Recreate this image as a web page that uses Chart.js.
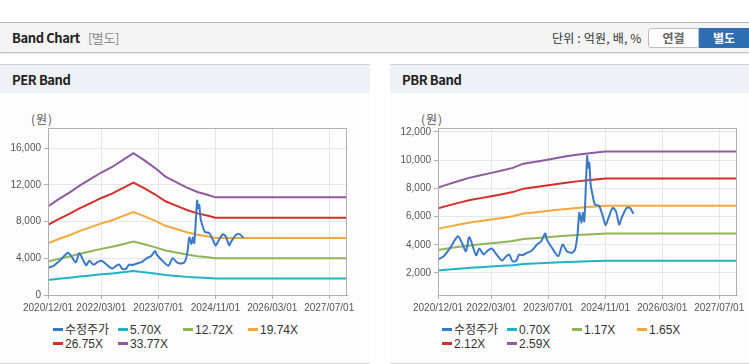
<!DOCTYPE html>
<html><head><meta charset="utf-8">
<script src="https://cdn.jsdelivr.net/npm/chart.js@4.4.1/dist/chart.umd.min.js"></script>
<style>
body{margin:0;width:749px;height:364px;background:#fff;position:relative;overflow:hidden;font-family:'Noto Sans CJK KR','Noto Sans',sans-serif;color:#222;}
.abs{position:absolute;}
#topline{left:0;top:22px;width:749px;height:1px;background:#bcbcbc;}
#hdr{left:0;top:23px;width:749px;height:29px;background:#f4f4f4;border-bottom:1px solid #c4c4c4;box-shadow:0 1px 2px rgba(0,0,0,0.12);}
#hdrTitle{left:12px;top:29px;font-size:13px;font-weight:bold;line-height:18px;letter-spacing:-0.4px;}
#hdrTitle span{color:#8a8a8a;font-weight:normal;margin-left:8px;}
#unit{left:552px;top:30px;font-size:12px;line-height:16px;color:#333;letter-spacing:0.2px;}
#btn1{left:648px;top:28px;width:49px;height:18px;border:1px solid #bdbdbd;border-radius:3px 0 0 3px;background:#fff;color:#666;font-size:12px;font-weight:bold;text-align:center;line-height:18px;}
#btn2{left:699px;top:28px;width:50px;height:20px;background:#2f6db1;color:#fff;font-size:12px;font-weight:bold;text-align:center;line-height:20px;}
.panel{top:64px;height:298px;background:#fdfdfd;border-top:1px solid #d2d2d2;border-bottom:1px solid #d8d8d8;}
.phead{left:0;top:0;right:0;height:28px;background:#eef1f6;}
.ptitle{top:7px;left:12px;font-size:13px;font-weight:bold;line-height:16px;letter-spacing:-0.4px;}
.unitlbl{top:110px;font-size:12px;color:#555;letter-spacing:1px;font-family:'Noto Sans CJK KR',sans-serif;}
canvas{position:absolute;}
.lg{position:absolute;font-family:'Liberation Sans','Noto Sans CJK KR',sans-serif;font-size:12px;color:#333;line-height:14px;white-space:nowrap;}
.lg i{display:inline-block;width:10px;height:3px;vertical-align:middle;margin-right:2px;position:relative;top:-1px;}
</style></head>
<body>
<div id="topline" class="abs"></div>
<div id="hdr" class="abs"></div>
<div id="hdrTitle" class="abs">Band Chart<span>[별도]</span></div>
<div id="unit" class="abs">단위 : 억원, 배, %</div>
<div id="btn1" class="abs">연결</div>
<div id="btn2" class="abs">별도</div>
<div class="abs panel" style="left:0;width:370px;"><div class="abs phead"></div><div class="abs ptitle">PER Band</div></div>
<div class="abs panel" style="left:390px;width:359px;"><div class="abs phead"></div><div class="abs ptitle">PBR Band</div></div>
<div class="abs unitlbl" style="left:31px;">(원)</div>
<div class="abs unitlbl" style="left:421px;">(원)</div>
<canvas id="per" width="370" height="220" style="left:0;top:100px;"></canvas>
<canvas id="pbr" width="359" height="220" style="left:390px;top:100px;"></canvas>
<script>
// ---- data ----
const xTickLabels = ['2020/12/01','2022/03/01','2023/07/01','2024/11/01','2026/03/01','2027/07/01'];
const axisStart = '2020/12/01';
const axisEnd = '2027/12/01';

const priceLabel = '수정주가';
// months since 2020/12/01
const priceMonths = [0,1.6,3.45,5.6,6.7,7.85,8.8,10.7,11.6,12.8,14.0,15.1,16.1,18.0,19.1,20.0,20.9,21.9,22.8,23.7,25.0,26.4,27.8,29.0,30.1,30.6,32.0,33.8,35.0,36.2,37.6,38.5,39.2,39.7,40.3,40.7,41.1,41.9,42.2,42.5,42.9,43.5,44.1,45.3,46.3,47.1,47.9,49.1,50.0,50.9,51.6,53.0,53.9,54.9];
const priceValues = [2960,3190,3790,4610,4140,3550,4540,3260,3740,3310,3600,3740,3430,2890,3170,3310,2840,2840,3310,3260,3430,3600,4020,4250,4800,4370,3790,3190,4020,3550,3430,3670,4730,6270,5560,6270,5670,10280,9460,9810,8270,7440,6860,6740,6030,5390,5910,6620,6360,5440,5910,6620,6620,6200];

const bandMonths = [0,3,6,9,12,15,18,21,24,27,30,33,36,39,42,45,47,84];

const perBandLabels = ['5.70X','12.72X','19.74X','26.75X','33.77X'];
const per570  = [1629,1764,1882,2017,2135,2253,2355,2481,2608,2481,2340,2178,2076,1975,1896,1840,1796,1796];
const per1272 = [3635,3937,4200,4502,4765,5029,5255,5537,5820,5537,5221,4859,4633,4407,4230,4106,4008,4008];
const per1974 = [5640,6108,6517,6985,7394,7803,8154,8592,9031,8592,8101,7540,7189,6839,6564,6371,6219,6219];
const per2675 = [7644,8277,8832,9466,10020,10575,11050,11644,12238,11644,10979,10218,9743,9268,8895,8634,8428,8428];
const per3377 = [9650,10450,11150,11950,12650,13350,13950,14700,15450,14700,13860,12900,12300,11700,11230,10900,10640,10640];

const pbrBandLabels = ['0.70X','1.17X','1.65X','2.12X','2.59X'];
const pbr070 = [2176,2244,2308,2368,2414,2460,2506,2554,2635,2668,2703,2741,2776,2806,2833,2854,2871,2871];
const pbr117 = [3636,3749,3858,3957,4034,4110,4187,4269,4404,4458,4517,4580,4639,4689,4734,4770,4797,4797];
const pbr165 = [5129,5288,5441,5581,5689,5798,5906,6021,6212,6288,6371,6460,6543,6613,6677,6728,6766,6766];
const pbr212 = [6589,6794,6990,7170,7309,7448,7587,7735,7980,8079,8185,8300,8406,8496,8578,8643,8692,8692];
const pbr259 = [8050,8300,8540,8760,8930,9100,9270,9450,9750,9870,10000,10140,10270,10380,10480,10560,10620,10620];

const perYTicks = [0,4000,8000,12000,16000];
const pbrYTicks = [2000,4000,6000,8000,10000,12000];

// ---- styles ----
const colors = ['#3a78c8','#1fb3c5','#8eb655','#f3a83c','#d1302b','#8d5b9e'];
const tickFont = {family:"'Liberation Sans', Arial, sans-serif",size:10};

function monthIdx(s){const p=s.split('/').map(Number);const b=axisStart.split('/').map(Number);return (p[0]-b[0])*12+(p[1]-b[1]);}
const xTickPos = xTickLabels.map(monthIdx);

function pts(xs, ys){return ys.map((v,i)=>({x:xs[i],y:v}));}

const frame = {id:'frame', afterDraw(c){const a=c.chartArea,x=c.ctx;x.save();x.strokeStyle='#b0b0b0';x.lineWidth=1;
  const l=Math.round(a.left),t=Math.round(a.top),r=Math.round(a.right),b=Math.round(a.bottom);
  x.strokeRect(l+0.5,t+0.5,r-l-1,b-t);x.restore();}};

function makeChart(id, bandLabels, bands, yMin, yMax, yTicks, padRight){
  const ds=[{label:priceLabel,data:pts(priceMonths,priceValues),borderColor:colors[0],tension:0.25}];
  bands.forEach((b,i)=>ds.push({label:bandLabels[i],data:pts(bandMonths,b),borderColor:colors[i+1],tension:0}));
  ds.forEach(d=>{d.borderWidth=2;d.pointRadius=0;d.fill=false;});
  return new Chart(document.getElementById(id),{
    type:'line',
    data:{datasets:ds},
    options:{responsive:false,animation:false,
      layout:{padding:{left:0,top:28,right:padRight,bottom:0}},
      plugins:{legend:{display:false},tooltip:{enabled:false}},
      scales:{
        x:{type:'linear',min:0,max:monthIdx(axisEnd),
          afterBuildTicks:s=>{s.ticks=xTickPos.map(v=>({value:v}));},
          afterFit:s=>{s.height=25;},
          grid:{color:'#e6e6e6',tickColor:'#b0b0b0',tickLength:4},
          border:{color:'#b0b0b0'},
          ticks:{autoSkip:false,maxRotation:0,padding:3,color:'#555',font:tickFont,
            callback:(v)=>{const i=xTickPos.indexOf(v);return i>=0?xTickLabels[i]:'';}}},
        y:{min:yMin,max:yMax,
          afterBuildTicks:s=>{s.ticks=yTicks.map(v=>({value:v}));},
          afterFit:s=>{s.width=48;},
          grid:{color:'#e6e6e6',tickColor:'#b0b0b0',tickLength:4},
          border:{color:'#b0b0b0'},
          ticks:{padding:3,color:'#555',font:tickFont,
            callback:v=>Number(v).toLocaleString('en-US')}}
      }},
    plugins:[frame]
  });
}

const perChart = makeChart('per', perBandLabels, [per570,per1272,per1974,per2675,per3377], 0, 18200, perYTicks, 23);
const pbrChart = makeChart('pbr', pbrBandLabels, [pbr070,pbr117,pbr165,pbr212,pbr259], 440, 12280, pbrYTicks, 12);

function legend(chart, left){
  chart.data.datasets.forEach((d,i)=>{
    const el=document.createElement('div');el.className='lg';
    const row=Math.floor(i/4), col=i%4;
    el.style.left=(left+col*65)+'px';el.style.top=(323+row*13.5)+'px';
    el.innerHTML='<i style="background:'+d.borderColor+'"></i>'+d.label;
    document.body.appendChild(el);
  });
}
legend(perChart, 53);
legend(pbrChart, 442);
</script>
</body></html>
